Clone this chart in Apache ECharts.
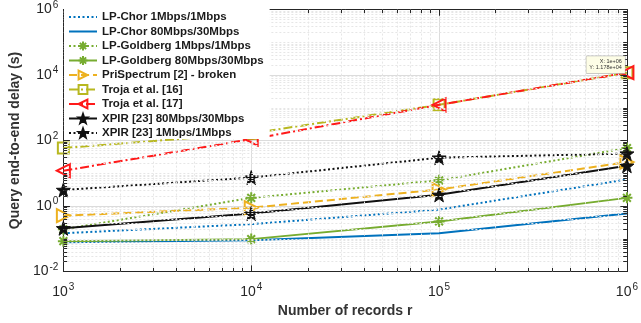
<!DOCTYPE html>
<html><head><meta charset="utf-8">
<script src="https://cdn.jsdelivr.net/npm/echarts@6/dist/echarts.min.js"></script>
<style>html,body{margin:0;padding:0;background:#fff}#c{width:641px;height:323px}</style>
</head><body><div id="c"></div>
<script>
const records = [1e3, 1e4, 1e5, 1e6];
const lpChor1 = [0.148, 0.28, 0.78, 6.5];
const lpChor80 = [0.079, 0.091, 0.148, 0.59];
const lpGold1 = [0.195, 1.78, 6.1, 59];
const lpGold80 = [0.085, 0.098, 0.34, 1.78];
const priSpectrum = [0.51, 0.89, 3.2, 22];
const troja16 = [59, 166, 1230, 11780];
const troja17 = [12, 110, 1230, 11780];
const xpir80 = [0.21, 0.59, 2.2, 17];
const xpir1 = [3.1, 7.4, 30, 40];
const xTickLabels = ['10^3','10^4','10^5','10^6'];
const yTickLabels = ['10^-2','10^0','10^2','10^4','10^6'];
const datatipText = ['X: 1e+06', 'Y: 1.178e+04'];

const FONT = 'Liberation Sans, Arial, Helvetica, sans-serif';
const pts = arr => records.map((x, i) => [x, arr[i]]);

const ASTER = 'path://M0,-10L0,10M-10,0L10,0M-7.07,-7.07L7.07,7.07M-7.07,7.07L7.07,-7.07';
const STAR = 'path://M0,-10L2.35,-3.24L9.51,-3.09L3.8,1.24L5.88,8.09L0,4L-5.88,8.09L-3.8,1.24L-9.51,-3.09L-2.35,-3.24Z';
const DASHDOT = [9, 3, 2, 3];
const DOT = [2, 2.5];
const BLUE = '#0072BD';

// minor gridline / tick positions
const minorX = [], minorY = [];
for (let d = 3; d < 6; d++) for (let m = 2; m <= 9; m++) minorX.push(m * Math.pow(10, d));
for (let d = -2; d < 6; d++) for (let m = 1; m <= 9; m++) {
  if (m === 1 && d % 2 === 0) continue;
  minorY.push(m * Math.pow(10, d));
}
const X0 = 1e3, X1 = 1e6, Y0 = 1e-2, Y1 = 1e6;
const tx = Math.pow(10, 0.02), ty = Math.pow(10, 0.11);
const tx2 = Math.pow(10, 0.035), ty2 = Math.pow(10, 0.19);

const gridLines = [];
minorX.forEach(v => gridLines.push({xAxis: v}));
minorY.forEach(v => gridLines.push({yAxis: v}));
const tickLines = [];
minorX.forEach(v => { tickLines.push([{coord: [v, Y0]}, {coord: [v, Y0 * ty]}]); tickLines.push([{coord: [v, Y1]}, {coord: [v, Y1 / ty]}]); });
minorY.forEach(v => { tickLines.push([{coord: [X0, v]}, {coord: [X0 * tx, v]}]); tickLines.push([{coord: [X1, v]}, {coord: [X1 / tx, v]}]); });
[1e4, 1e5].forEach(v => { tickLines.push([{coord: [v, Y0]}, {coord: [v, Y0 * ty2]}]); tickLines.push([{coord: [v, Y1]}, {coord: [v, Y1 / ty2]}]); });
[1e0, 1e2, 1e4].forEach(v => { tickLines.push([{coord: [X0, v]}, {coord: [X0 * tx2, v]}]); tickLines.push([{coord: [X1, v]}, {coord: [X1 / tx2, v]}]); });

function supLabel(s) {
  const p = s.split('^');
  return '{b|' + p[0] + '}{s|' + p[1] + '}';
}
const labelRich = {
  b: {fontSize: 14, fontFamily: FONT, color: '#262626'},
  s: {fontSize: 10, fontFamily: FONT, color: '#262626', padding: [0, 0, 9, 1]}
};
function labelFor(list, v) {
  const e = Math.round(Math.log10(v));
  const f = list.find(s => s === '10^' + e);
  return f ? supLabel(f) : '';
}

function mkSeries(name, data, color, lineType, symbol, opts) {
  opts = opts || {};
  return Object.assign({
    name, type: 'line', data: pts(data),
    lineStyle: {color, width: 2, type: lineType},
    symbol: symbol || 'none',
    symbolSize: opts.size || 12,
    symbolRotate: opts.rot || 0,
    showSymbol: !!symbol,
    itemStyle: opts.filled ? {color, borderColor: color, borderWidth: 1}
                           : {color: 'rgba(255,255,255,0)', borderColor: color, borderWidth: 2},
    z: 3,
    animation: false
  }, opts.extra || {});
}

const series = [
  mkSeries('LP-Chor 1Mbps/1Mbps', lpChor1, BLUE, DOT),
  mkSeries('LP-Chor 80Mbps/30Mbps', lpChor80, BLUE, 'solid'),
  mkSeries('LP-Goldberg 1Mbps/1Mbps', lpGold1, '#77AC30', DOT, ASTER, {size: 11}),
  mkSeries('LP-Goldberg 80Mbps/30Mbps', lpGold80, '#77AC30', 'solid', ASTER, {size: 11}),
  mkSeries('PriSpectrum [2] - broken', priSpectrum, '#EDB120', [8, 4], 'triangle', {rot: -90, size: 13}),
  mkSeries('Troja et al. [16]', troja16, '#B8B820', DASHDOT, 'rect', {size: 11}),
  mkSeries('Troja et al. [17]', troja17, '#FF1A1A', DASHDOT, 'triangle', {rot: 90, size: 13, extra: {
    markPoint: {
      symbol: 'rect', symbolSize: 0, z: 10,
      data: [{coord: [records[3], troja17[3]], value: 0}],
      label: {
        show: true, position: 'left', distance: 0, offset: [-2, -8],
        formatter: datatipText.join('\n'),
        fontSize: 5.5, lineHeight: 6.5, fontFamily: FONT, color: '#333',
        backgroundColor: '#fdfde6', borderColor: '#999', borderWidth: 0.5, padding: [2, 3]
      }
    }
  }}),
  mkSeries('XPIR [23] 80Mbps/30Mbps', xpir80, '#111111', 'solid', STAR, {size: 14, filled: true}),
  mkSeries('XPIR [23] 1Mbps/1Mbps', xpir1, '#111111', DOT, STAR, {size: 14, filled: true}),
  {
    name: '_grid', type: 'line', data: [], silent: true, z: 1, animation: false,
    markLine: {silent: true, symbol: 'none', label: {show: false}, animation: false,
      lineStyle: {color: '#e6e6e6', width: 1, type: [2, 2]}, data: gridLines}
  },
  {
    name: '_ticks', type: 'line', data: [], silent: true, z: 2, animation: false,
    markLine: {silent: true, symbol: 'none', label: {show: false}, animation: false,
      lineStyle: {color: '#262626', width: 1, type: 'solid'}, data: tickLines}
  }
];

const axisCommon = {
  type: 'log', logBase: 10,
  axisLine: {show: true, lineStyle: {color: '#262626', width: 1}},
  axisTick: {show: false},
  splitLine: {show: true, lineStyle: {color: '#dcdcdc', width: 1}},
  minorTick: {show: false}, minorSplitLine: {show: false}
};

const legendNames = series.filter(s => s.name[0] !== '_').map(s => s.name);
const chart = echarts.init(document.getElementById('c'), null, {renderer: 'canvas'});
chart.setOption({
  backgroundColor: '#fff',
  animation: false,
  grid: {left: 59, right: 11, top: 9, bottom: 47, containLabel: false},
  legend: {
    data: legendNames.map((n, i) => i < 2
      ? {name: n, itemStyle: {color: 'rgba(0,0,0,0)', borderWidth: 0, borderColor: 'rgba(0,0,0,0)'}}
      : {name: n}),
    orient: 'vertical', left: 64, top: 9, z: 50,
    itemWidth: 28, itemHeight: 11, itemGap: 2.5,
    backgroundColor: '#ffffff', padding: [2, 6, 0, 4],
    textStyle: {fontSize: 11.5, fontWeight: 'bold', fontFamily: FONT, color: '#1a1a1a'}
  },
  xAxis: [
    Object.assign({}, axisCommon, {
      min: 1e3, max: 1e6, position: 'bottom',
      name: 'Number of records r', nameLocation: 'middle', nameGap: 30,
      nameTextStyle: {fontSize: 14, fontWeight: 'bold', fontFamily: FONT, color: '#333'},
      axisLabel: {margin: 11, formatter: v => labelFor(xTickLabels, v), rich: labelRich}
    }),
    Object.assign({}, axisCommon, {min: 1e3, max: 1e6, position: 'top', splitLine: {show: false}, axisLabel: {show: false}})
  ],
  yAxis: [
    Object.assign({}, axisCommon, {
      min: 1e-2, max: 1e6, interval: 2,
      name: 'Query end-to-end delay (s)', nameLocation: 'middle', nameGap: 37, nameRotate: 90,
      nameTextStyle: {fontSize: 14, fontWeight: 'bold', fontFamily: FONT, color: '#333'},
      axisLabel: {margin: 5, formatter: v => labelFor(yTickLabels, v), rich: labelRich}
    }),
    Object.assign({}, axisCommon, {min: 1e-2, max: 1e6, position: 'right', splitLine: {show: false}, axisLabel: {show: false}})
  ],
  series
});
</script></body></html>
